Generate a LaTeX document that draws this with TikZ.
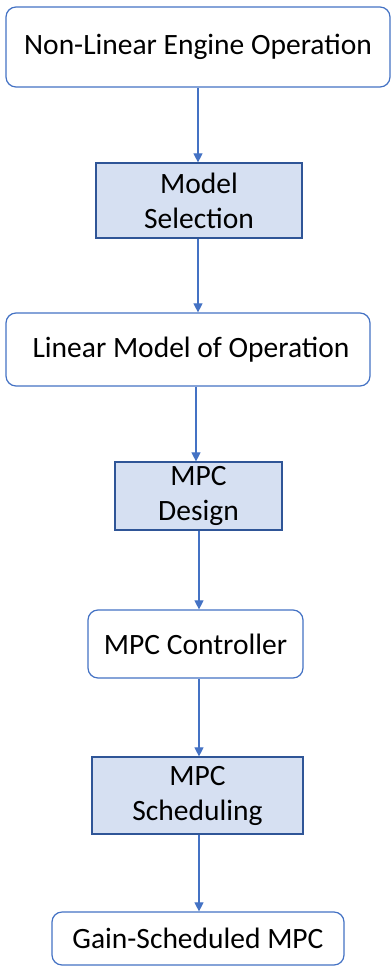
\documentclass[tikz,border=0pt]{standalone}
\usepackage{fontspec}
\setmainfont{Carlito}
\usetikzlibrary{arrows.meta}
\definecolor{lineblue}{HTML}{4472C4}
\definecolor{darkblue}{HTML}{2F5597}
\definecolor{fillblue}{HTML}{D6E0F2}
\tikzset{
  roundbox/.style={draw=lineblue, line width=1.2pt, rounded corners=10pt, fill=white,
    align=center, inner sep=0pt, font=\fontsize{29.5}{35}\selectfont},
  flatbox/.style={draw=darkblue, line width=1.2pt, fill=fillblue,
    align=center, inner sep=0pt, font=\fontsize{29.5}{35}\selectfont},
  arr/.style={draw=lineblue, line width=1.1pt, -{Triangle[width=9pt,length=9pt]}}
}
\begin{document}
\begin{tikzpicture}[x=1pt,y=-1pt]
\useasboundingbox (0,0) rectangle (391,972);
\node[roundbox, minimum width=384pt, minimum height=80pt] (b1) at (198,47) {Non-Linear Engine Operation};
\node[flatbox, minimum width=206pt, minimum height=75pt] (b2) at (199,200.5) {Model\\Selection};
\node[roundbox, minimum width=364pt, minimum height=73pt] (b3) at (188,349.5) {\hspace*{6pt}Linear Model of Operation};
\node[flatbox, minimum width=167pt, minimum height=68pt] (b4) at (198.5,496) {MPC\\Design};
\node[roundbox, minimum width=215pt, minimum height=68pt] (b5) at (195.5,644) {MPC Controller};
\node[flatbox, minimum width=211pt, minimum height=77pt] (b6) at (197.5,795.5) {MPC\\Scheduling};
\node[roundbox, minimum width=292pt, minimum height=53pt] (b7) at (198,938.5) {Gain-Scheduled MPC};
\coordinate (c1) at (198,0);
\coordinate (c3) at (196,0);
\coordinate (c4) at (199,0);
\draw[arr] (b1.south -| c1) -- (b2.north -| c1);
\draw[arr] (b2.south -| c1) -- (b3.north -| c1);
\draw[arr] (b3.south -| c3) -- (b4.north -| c3);
\draw[arr] (b4.south -| c4) -- (b5.north -| c4);
\draw[arr] (b5.south -| c4) -- (b6.north -| c4);
\draw[arr] (b6.south -| c4) -- (b7.north -| c4);
\end{tikzpicture}
\end{document}
